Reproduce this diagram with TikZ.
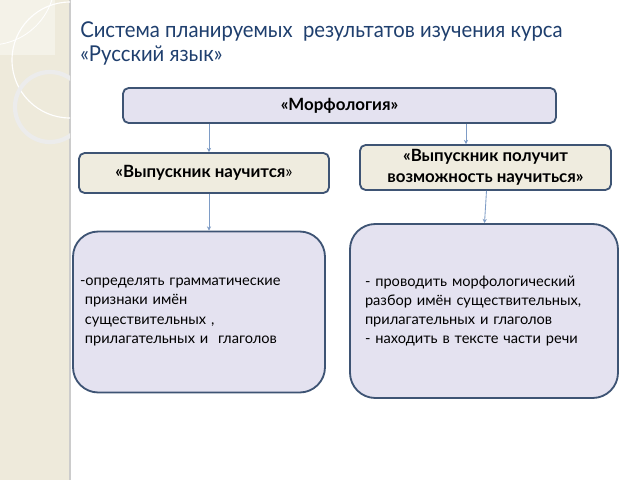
\documentclass[tikz,border=0pt]{standalone}
\usepackage{fontspec}
\setmainfont{Lato}
\usetikzlibrary{arrows.meta}
\definecolor{side}{HTML}{EEEADB}
\definecolor{sidelight}{HTML}{F4F2E8}
\definecolor{lav}{HTML}{E4E2F0}
\definecolor{beig}{HTML}{EFECDF}
\definecolor{bord}{HTML}{3E5474}
\definecolor{ttl}{HTML}{1F3F6E}
\definecolor{arr}{HTML}{7E9CC6}
\begin{document}
\begin{tikzpicture}[x=0.025cm,y=-0.025cm,
  box/.style={draw=bord,line width=1.3pt,rounded corners=4pt,align=center,font=\bfseries\fontsize{12}{15}\selectfont,inner sep=0pt},
  bigbox/.style={draw=bord,line width=1.3pt,rounded corners=18pt,fill=lav,font=\fontsize{10.4}{13.6}\selectfont,align=left},
  conn/.style={draw=arr,line width=0.6pt,-{Stealth[length=3pt,width=3pt]}},
  ttlstyle/.style={anchor=base west,text=ttl,font=\fontsize{15.5}{20}\selectfont,inner sep=0pt}]
\useasboundingbox (0,0) rectangle (640,480);
\fill[white] (0,0) rectangle (640,480);
% sidebar
\fill[side] (0,0) rectangle (70,480);
\fill[sidelight] (0,0) rectangle (55,55);
\draw[gray!40,line width=0.8pt] (70,0) -- (70,480);
\begin{scope}
\clip (0,0) rectangle (70,480);
\draw[white,line width=0.8pt] (70,60) circle (58);
\draw[white!85!gray,line width=3pt] (50,107) circle (35);
\draw[white,line width=0.6pt] (-10,-20) circle (65);
\end{scope}
% title
\node[ttlstyle] (t1) at (80,37) {\scalebox{0.93}[1]{Система планируемых\ \ результатов изучения курса}};
\node[ttlstyle] (t2) at (80,61) {\scalebox{0.93}[1]{«Русский язык»}};
% boxes
\node[box,fill=lav,minimum width=433*0.025cm,minimum height=35*0.025cm] (morf) at (339.5,105.5) {«Морфология»};
\node[box,fill=beig,minimum width=250*0.025cm,minimum height=40*0.025cm] (l1) at (204,173) {«Выпускник научится{\mdseries»}};
\node[box,fill=beig,minimum width=251*0.025cm,minimum height=45*0.025cm] (r1) at (485.5,167.5) {«Выпускник получит\\возможность научиться»};
\node[bigbox,minimum width=252*0.025cm,minimum height=161*0.025cm,text width=238*0.025cm,inner xsep=7*0.025cm] (l2) at (199,312)
 {-определять грамматические\\ \ признаки имён\\ \ существительных ,\\ \ прилагательных и\ \ глаголов};
\node[bigbox,minimum width=268*0.025cm,minimum height=174*0.025cm,text width=238*0.025cm,inner xsep=15*0.025cm] (r2) at (484,311)
 {- проводить морфологический\\разбор имён существительных,\\прилагательных и глаголов\\- находить в тексте части речи};
% connectors
\draw[conn] ([xshift=5*0.025cm]morf.south -| l1.north) -- ([xshift=5*0.025cm]l1.north);
\draw[conn] ([xshift=-19.5*0.025cm]morf.south -| r1.north) -- ([xshift=-19.5*0.025cm]r1.north);
\draw[conn] ([xshift=5*0.025cm]l1.south) -- ([xshift=5*0.025cm]l1.south |- l2.north);
\draw[conn] ([xshift=1*0.025cm]r1.south) -- ([xshift=-1*0.025cm]r1.south |- r2.north);
\end{tikzpicture}
\end{document}
